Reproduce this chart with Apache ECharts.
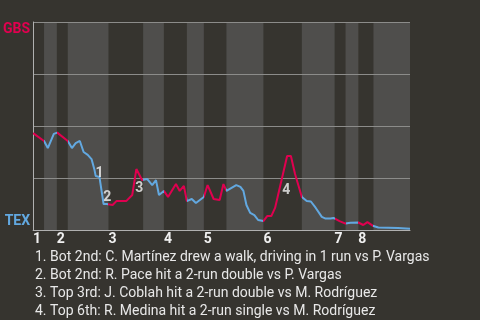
<!DOCTYPE html>
<html><head><meta charset="utf-8">
<script src="https://cdn.jsdelivr.net/npm/echarts@6/dist/echarts.min.js"></script>
<style>html,body{margin:0;padding:0;background:#36342f;}#c{width:480px;height:320px;}</style>
</head><body><div id="c"></div>
<script>
// Half-inning boundaries (x = plate-appearance scale 0..100)
const halfBounds = [0, 2.9, 6.3, 9.2, 20, 29.2, 34.7, 40.8, 45.3, 51.3, 61.1, 71.3, 80, 82.9, 86.3, 90.3, 100];
const inningLabels = ['1','2','3','4','5','6','7','8'];
// Win probability (GBS %) over the game
const xs = [0,2.9,3.9,5.5,6.4,9.2,10.3,11.3,12.4,13.4,14.5,15.5,16.3,16.6,17.6,18.7,19.5,20,21.1,22.1,24.7,26.3,27.4,28.9,30.3,31.6,32.6,33.4,33.9,34.7,35.8,37.9,38.9,40.0,40.8,42.1,43.2,45.3,46.3,47.9,49.5,50.5,51.3,53.9,55.0,55.8,56.6,57.6,58.7,59.7,61.1,62.1,63.2,64.2,67.4,68.4,69.5,71.3,72.6,73.7,75.0,76.6,77.6,78.9,79.7,81.3,82.9,84.2,86.3,87.6,88.7,90.3,91.6,96.8,97.1,100];
const ps = [46.6,42.8,39.4,46.2,46.8,42.8,39.4,41.8,42.8,37.5,36.1,34.1,28.8,26.0,25.5,12.5,12.5,13.0,12.0,13.9,13.9,16.8,29.3,24.0,24.5,21.6,24.0,16.8,16.3,18.8,15.9,22.1,18.8,21.2,13.9,14.9,13.0,15.9,21.6,14.9,14.4,22.1,18.8,21.6,20.7,18.8,12.0,8.2,7.2,4.8,4.3,6.7,6.7,10.6,35.6,35.6,26.9,15.9,13.9,13.7,10.6,6.3,5.5,5.5,5.8,4.3,3.1,3.5,3.6,2.4,3.8,1.9,1.2,1.0,0.6,0.6];
// Key-event annotations
const annX = [17.6, 19.7, 28.2, 67.2];
const annY = [27.2, 15.4, 20.0, 19.2];
const annText = ['1','2','3','4'];
const notes = [
  '1. Bot 2nd: C. Martínez drew a walk, driving in 1 run vs P. Vargas',
  '2. Bot 2nd: R. Pace hit a 2-run double vs P. Vargas',
  '3. Top 3rd: J. Coblah hit a 2-run double vs M. Rodríguez',
  '4. Top 6th: R. Medina hit a 2-run single vs M. Rodríguez'
];
const teams = {top: 'GBS', bottom: 'TEX'};

const RED = '#e0004f', BLUE = '#62a8e0';
const FONT = 'Roboto';
const inningStarts = halfBounds.filter((v,i)=>i%2===0 && i<halfBounds.length-1);
const bands = [];
for (let i = 1; i < halfBounds.length-1; i += 2) bands.push([{xAxis: halfBounds[i]}, {xAxis: halfBounds[i+1]}]);
const pieces = [];
for (let i = 0; i < halfBounds.length-1; i++) pieces.push({gte: halfBounds[i], lt: i===halfBounds.length-2 ? 1000 : halfBounds[i+1], color: i%2===0 ? RED : BLUE});

const chart = echarts.init(document.getElementById('c'));
chart.setOption({
  backgroundColor: '#36342f',
  animation: false,
  textStyle: {fontFamily: FONT},
  title: {text: notes.join('\n'), left: 30, top: 243, textStyle: {fontFamily: FONT, fontSize: 14, fontWeight: 'normal', color: '#e8e8e8', lineHeight: 18}},
  grid: {left: 30, right: 70, top: 22, bottom: 90},
  xAxis: {type: 'value', min: 0, max: 100, z: 1.5,
    axisLine: {show: true, lineStyle: {color: '#b0b0b0', width: 1}},
    axisTick: {show: false}, splitLine: {show: false},
    axisLabel: {customValues: inningStarts, align: 'left', margin: 2, color: '#f0f0f0', fontWeight: 'bold', fontSize: 14, fontFamily: FONT,
      formatter: v => { const i = inningStarts.findIndex(s => Math.abs(s - v) < 1e-6); return i >= 0 ? inningLabels[i] : ''; }}
  },
  yAxis: {type: 'value', min: 0, max: 100, interval: 25, z: 1.5,
    axisLine: {show: true, lineStyle: {color: '#b0b0b0', width: 1}},
    axisTick: {show: false},
    splitLine: {show: true, lineStyle: {color: '#8c8c8a', width: 1}},
    axisLabel: {margin: 3, fontFamily: FONT,
      formatter: v => v === 100 ? '{g|' + teams.top + '}' : (v === 0 ? '{t|' + teams.bottom + '}' : ''),
      rich: {
        g: {color: RED, fontWeight: 'bold', fontSize: 14, fontFamily: FONT, padding: [14, 0, 0, 0]},
        t: {color: BLUE, fontWeight: 'bold', fontSize: 14, fontFamily: FONT, padding: [0, 0, 17, 0]}
      }}
  },
  visualMap: {type: 'piecewise', show: false, dimension: 0, seriesIndex: 1, pieces: pieces},
  series: [
    {type: 'line', z: 1, silent: true, data: xs.map((x,i)=>[x, ps[i]]), showSymbol: false, lineStyle: {opacity: 0},
      markArea: {silent: true, itemStyle: {color: '#4f4e4c'}, data: bands}},
    {type: 'line', z: 3, data: xs.map((x,i)=>[x, ps[i]]), showSymbol: false, symbol: 'none', lineStyle: {width: 2}},
    {type: 'scatter', z: 4, symbolSize: 0, data: annX.map((x,i)=>({value: [x, annY[i]], name: annText[i]})),
      label: {show: true, position: 'inside', formatter: p => p.name, color: '#f4f4f4', fontWeight: 'bold', fontSize: 14, fontFamily: FONT}}
  ]
});
</script></body></html>
